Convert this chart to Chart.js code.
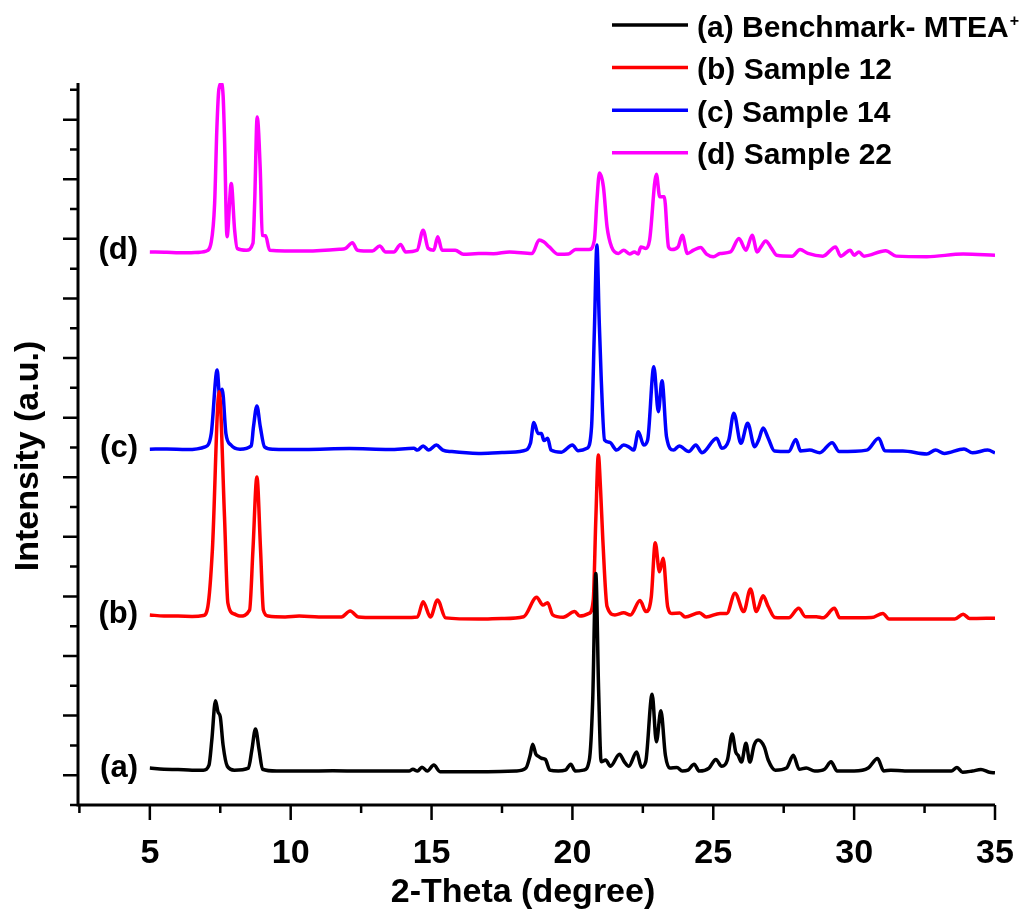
<!DOCTYPE html>
<html>
<head>
<meta charset="utf-8">
<script src="https://cdn.jsdelivr.net/npm/chart.js@4.4.0/dist/chart.umd.min.js"></script>
<style>
  body { margin: 0; background: #fff; }
  canvas { display: block; }
</style>
</head>
<body>
<canvas id="xrd" width="1020" height="909"></canvas>
<script>
const FONT = "'Liberation Sans', Arial, Helvetica, sans-serif";

// 2-theta (degree) and intensity above background (a.u.) for every pattern
const thetaA = [5.0,5.5,6.0,6.5,6.9,7.1,7.2,7.33,7.42,7.5,7.6,7.75,8.0,8.5,8.62,8.75,8.88,9.0,9.5,10.5,11.5,12.5,13.5,14.2,14.34,14.5,14.66,14.85,15.08,15.3,16.0,17.0,18.0,18.35,18.5,18.59,18.7,18.78,18.9,19.04,19.2,19.5,19.75,19.94,20.1,20.4,20.6,20.72,20.83,20.93,21.02,21.18,21.35,21.67,21.85,22.0,22.28,22.45,22.6,22.83,22.98,23.14,23.3,23.45,23.71,23.9,24.1,24.32,24.5,24.85,25.09,25.3,25.5,25.67,25.8,25.88,26.0,26.16,26.3,26.45,26.59,26.81,26.95,27.2,27.6,27.84,28.05,28.3,28.6,28.95,29.18,29.4,30.0,30.5,30.83,31.05,31.3,31.8,32.5,33.0,33.45,33.65,33.85,34.2,34.5,34.8,35.0];
const intA = [12,8,7,5,5,22,106,238,200,184,89,18,5,12,72,143,72,8,2,2,3,2,2,2,8,2,15,2,22,0,0,0,2,12,55,92,59,52,45,41,5,2,5,25,2,5,39,240,665,274,33,39,18,58,32,18,66,15,32,260,100,204,55,12,14,2,5,25,2,12,41,18,39,126,65,55,32,95,32,89,106,83,39,5,12,55,8,12,2,8,33,2,2,12,44,2,5,2,2,2,2,14,-2,2,7,-2,-4];

const thetaB = [5.0,5.5,6.0,6.5,6.9,7.06,7.22,7.46,7.65,7.77,8.0,8.2,8.54,8.66,8.8,8.93,9.03,9.2,9.8,10.3,11.0,11.8,12.11,12.4,13.0,14.0,14.5,14.7,14.96,15.21,15.5,16.67,17.5,18.27,18.73,18.95,19.12,19.3,19.67,20.08,20.26,20.59,20.74,20.83,20.92,21.0,21.08,21.23,21.51,21.82,22.06,22.4,22.61,22.8,22.94,23.09,23.22,23.38,23.53,23.81,24.0,24.51,24.75,25.24,25.48,25.77,26.08,26.32,26.53,26.77,26.95,27.19,27.68,28.03,28.27,28.66,28.9,29.3,29.49,30.62,31.02,31.24,32.5,33.57,33.87,34.1,35.0];
const intB = [7,3,3,2,5,35,225,756,337,47,10,3,23,225,470,225,23,3,0,3,0,0,20,0,-2,-2,0,51,0,57,-3,-7,-5,1,66,40,48,7,-1,18,3,12,57,326,544,426,258,35,7,14,7,55,18,68,249,152,197,35,12,13,0,14,0,12,12,80,18,94,18,71,35,-2,-3,29,1,1,-3,29,-3,-2,12,-7,-7,-7,9,-5,-4];

const thetaC = [5.0,5.6,6.3,6.96,7.18,7.39,7.48,7.57,7.7,7.88,8.2,8.6,8.68,8.8,8.92,9.07,9.37,10.5,12.08,13.5,14.37,14.5,14.7,14.9,15.17,15.4,15.72,16.67,17.5,18.27,18.51,18.63,18.78,18.9,18.99,19.12,19.24,19.61,20.0,20.2,20.52,20.68,20.78,20.87,20.95,21.02,21.14,21.32,21.57,21.82,22.0,22.18,22.34,22.53,22.67,22.89,23.05,23.18,23.34,23.59,23.79,24.13,24.38,24.6,25.12,25.3,25.55,25.73,25.98,26.22,26.47,26.61,26.77,26.95,27.17,27.68,27.93,28.1,28.42,28.78,29.22,29.47,30.45,30.87,31.09,31.73,32.58,32.89,33.2,33.9,34.2,34.74,35.0];
const intC = [6,7,5,14,59,272,182,207,59,20,6,17,82,151,82,14,6,5,8,5,9,3,17,3,20,3,-2,-8,-5,1,26,96,59,59,35,43,3,-4,20,1,9,82,406,691,440,249,37,29,3,20,14,3,65,20,37,283,132,236,48,3,17,-2,20,-6,43,9,37,127,26,93,14,37,77,43,0,-2,39,0,3,-6,28,-2,3,43,1,0,-10,3,-8,7,-6,3,-6];

const thetaD = [5.0,5.6,6.04,6.6,7.0,7.18,7.3,7.38,7.45,7.53,7.6,7.65,7.74,7.89,8.01,8.1,8.43,8.66,8.72,8.81,8.92,8.99,9.11,9.25,10.55,11.73,11.95,12.19,12.37,12.9,13.16,13.37,13.66,13.9,14.08,14.49,14.7,14.88,15.08,15.22,15.37,15.6,15.84,16.13,16.67,17.2,17.77,18.57,18.82,18.98,19.18,19.5,19.86,20.11,20.59,20.78,20.87,20.96,21.1,21.23,21.39,21.63,21.82,22.03,22.2,22.33,22.43,22.61,22.74,22.98,23.1,23.26,23.41,23.53,23.75,23.9,24.08,24.3,24.55,24.76,25.0,25.24,25.61,25.91,26.16,26.38,26.56,26.69,26.86,27.07,27.25,27.8,28.08,28.36,28.89,29.34,29.52,29.86,30.0,30.17,30.35,31.12,31.49,32.58,33.87,35.0];
const intD = [4,3,1,2,7,38,167,420,550,570,530,390,55,234,77,16,10,33,167,457,279,60,58,10,7,13,16,35,10,7,24,4,4,29,4,10,77,16,10,55,10,10,10,-4,-1,-2,4,-1,44,38,21,-4,-3,12,12,44,178,269,223,88,21,-1,10,-3,4,-3,21,16,44,265,189,189,21,12,21,60,-1,10,19,-3,-12,-1,4,49,10,60,4,21,41,16,-7,-10,12,-1,-10,21,-10,10,-7,4,-10,8,-10,-12,-3,-7];

const seriesNames = ['(a) Benchmark- MTEA', '(b) Sample 12', '(c) Sample 14', '(d) Sample 22'];
const nameSup = ['+', '', '', ''];
const seriesTags = ['(a)', '(b)', '(c)', '(d)'];
const seriesColors = ['#000000', '#ff0000', '#0000ff', '#ff00ff'];
const offsets = [112, 631, 1188, 1852]; // stacking offset of each pattern

const xTickLabels = [5, 10, 15, 20, 25, 30, 35];
const xMinorTicks = [2.5, 7.5, 12.5, 17.5, 22.5, 27.5, 32.5];
const yMax = 2423;
const yStep = 100;

const thetas = [thetaA, thetaB, thetaC, thetaD];
const ints = [intA, intB, intC, intD];

const datasets = seriesNames.map((name, i) => ({
  label: name,
  data: thetas[i].map((t, k) => ({ x: t, y: ints[i][k] + offsets[i] })),
  borderColor: seriesColors[i],
  borderWidth: 3.5,
  pointRadius: 0,
  cubicInterpolationMode: 'monotone',
  fill: false
}));

// axis lines, tick marks, titles, pattern tags and the legend
const decorations = {
  id: 'decorations',
  afterDraw(chart) {
    const ctx = chart.ctx;
    const x = chart.scales.x;
    const y = chart.scales.y;
    const area = chart.chartArea;
    ctx.save();
    ctx.strokeStyle = '#000';
    ctx.lineWidth = 3;
    ctx.beginPath();
    ctx.moveTo(area.left, area.top);
    ctx.lineTo(area.left, area.bottom);
    ctx.lineTo(area.right, area.bottom);
    ctx.stroke();

    ctx.lineWidth = 2.5;
    ctx.beginPath();
    xTickLabels.forEach(v => {
      const px = x.getPixelForValue(v);
      ctx.moveTo(px, area.bottom);
      ctx.lineTo(px, area.bottom + 15);
    });
    xMinorTicks.forEach(v => {
      const px = x.getPixelForValue(v);
      ctx.moveTo(px, area.bottom);
      ctx.lineTo(px, area.bottom + 8);
    });
    for (let v = 0; v <= yMax; v += yStep) {
      const py = y.getPixelForValue(v);
      const len = (v / yStep) % 2 ? 15 : 8;
      ctx.moveTo(area.left - len, py);
      ctx.lineTo(area.left, py);
    }
    ctx.stroke();

    ctx.fillStyle = '#000';
    ctx.font = `bold 34px ${FONT}`;
    ctx.textAlign = 'center';
    ctx.textBaseline = 'alphabetic';
    ctx.fillText('2-Theta (degree)', 523, 902);
    ctx.save();
    ctx.translate(38, 456);
    ctx.rotate(-Math.PI / 2);
    ctx.fillText('Intensity (a.u.)', 0, 0);
    ctx.restore();

    ctx.font = `bold 31px ${FONT}`;
    ctx.textAlign = 'right';
    ctx.textBaseline = 'middle';
    seriesTags.forEach((tag, i) => {
      ctx.fillText(tag, 138, y.getPixelForValue(offsets[i]) - 3);
    });

    ctx.textAlign = 'left';
    ctx.textBaseline = 'alphabetic';
    seriesNames.forEach((name, i) => {
      const ly = 25 + i * 42.6;
      ctx.strokeStyle = seriesColors[i];
      ctx.lineWidth = 3.5;
      ctx.beginPath();
      ctx.moveTo(612, ly);
      ctx.lineTo(688, ly);
      ctx.stroke();
      ctx.font = `bold 30px ${FONT}`;
      ctx.fillText(name, 697, ly + 11.5);
      if (nameSup[i]) {
        const w = ctx.measureText(name).width;
        ctx.font = `bold 16px ${FONT}`;
        ctx.fillText(nameSup[i], 697 + w + 1, ly + 0.5);
      }
    });
    ctx.restore();
  }
};

new Chart(document.getElementById('xrd'), {
  type: 'line',
  data: { datasets: datasets },
  options: {
    responsive: false,
    animation: false,
    events: [],
    layout: { padding: { top: 83, right: 25, left: 0, bottom: 0 } },
    plugins: {
      legend: { display: false },
      tooltip: { enabled: false }
    },
    scales: {
      x: {
        type: 'linear',
        min: 2.45,
        max: 35,
        grid: { display: false },
        border: { display: false },
        afterBuildTicks: (scale) => {
          scale.ticks = xTickLabels.map(v => ({ value: v }));
        },
        afterFit: (scale) => {
          scale.height = 104;
          scale.paddingLeft = 0;
          scale.paddingRight = 0;
        },
        ticks: {
          color: '#000',
          padding: 20,
          maxRotation: 0,
          autoSkip: false,
          font: { family: FONT, size: 34, weight: 'bold' }
        }
      },
      y: {
        type: 'linear',
        min: 0,
        max: yMax,
        grid: { display: false },
        border: { display: false },
        ticks: { display: false },
        afterFit: (scale) => { scale.width = 78; }
      }
    }
  },
  plugins: [decorations]
});
</script>
</body>
</html>
